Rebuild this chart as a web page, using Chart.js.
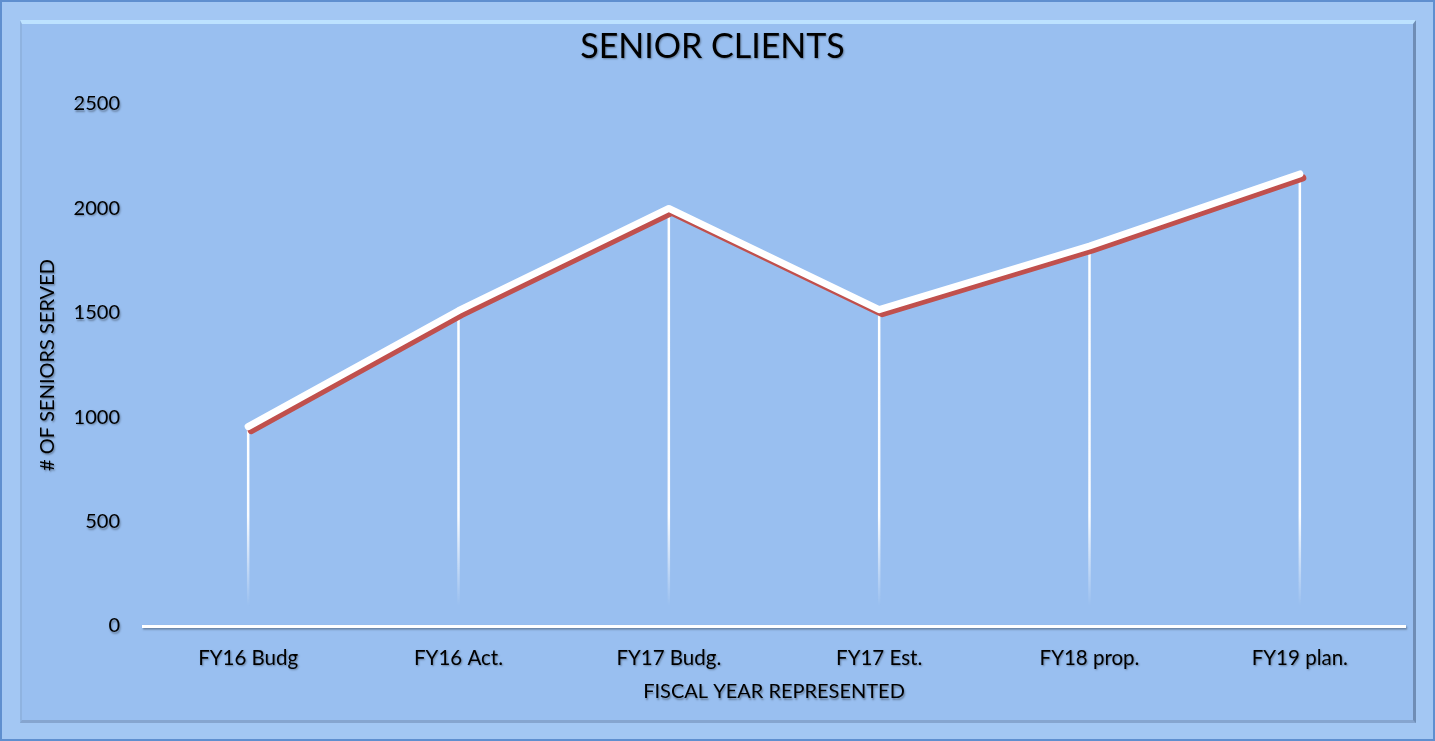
<!DOCTYPE html>
<html>
<head>
<meta charset="utf-8">
<script src="https://cdn.jsdelivr.net/npm/chart.js@4/dist/chart.umd.min.js"></script>
<style>
  html, body { margin: 0; padding: 0; background: #99bff0; }
  #wrap { position: relative; width: 1435px; height: 741px; overflow: hidden; }
  #outer { position: absolute; left: 0; top: 0; width: 1435px; height: 741px; box-sizing: border-box;
           border: 2px solid #5f8fcf; background: #a3c7f3; }
  #inner { position: absolute; left: 20px; top: 20px; width: 1396px; height: 703px; box-sizing: border-box;
           background: #99bff0; border-top: 4px solid #bde2ff; border-left: 2px solid #8fb3e0;
           border-right: 3px solid #6f8db5; border-bottom: 3px solid #86a5cf; }
  canvas { position: absolute; left: 0; top: 0; }
</style>
</head>
<body>
<div id="wrap">
  <div id="outer"></div>
  <div id="inner"></div>
  <canvas id="c" width="1435" height="741"></canvas>
</div>
<script>
const categories = ["FY16 Budg", "FY16 Act.", "FY17 Budg.", "FY17 Est.", "FY18 prop.", "FY19 plan."];
const seniorsServed = [955, 1510, 2000, 1515, 1820, 2165];
const yTicks = [0, 500, 1000, 1500, 2000, 2500];

const FONT = "Lato, 'Open Sans', sans-serif";

const textShadow = {
  id: 'textShadow',
  beforeDraw(chart) {
    const ctx = chart.ctx;
    ctx.shadowColor = 'rgba(0,0,0,0.35)';
    ctx.shadowOffsetX = 1;
    ctx.shadowOffsetY = 1.5;
    ctx.shadowBlur = 2;
  },
  beforeDatasetsDraw(chart) {
    const ctx = chart.ctx;
    ctx.shadowColor = 'rgba(0,0,0,0)';
    ctx.shadowOffsetX = 0;
    ctx.shadowOffsetY = 0;
    ctx.shadowBlur = 0;
    // drop lines
    const meta = chart.getDatasetMeta(0);
    const yBase = chart.scales.y.getPixelForValue(0) - 20;
    ctx.save();
    meta.data.forEach(pt => {
      const g = ctx.createLinearGradient(0, pt.y, 0, yBase);
      g.addColorStop(0, 'rgba(255,255,255,1)');
      g.addColorStop(Math.max(0, (yBase - 90 - pt.y) / (yBase - pt.y)), 'rgba(255,255,255,0.95)');
      g.addColorStop(1, 'rgba(255,255,255,0)');
      ctx.strokeStyle = g;
      ctx.lineWidth = 2.5;
      ctx.beginPath();
      ctx.moveTo(pt.x, pt.y);
      ctx.lineTo(pt.x, yBase);
      ctx.stroke();
    });
    ctx.restore();
  },
  beforeDatasetDraw(chart) {
    const ctx = chart.ctx;
    ctx.save();
    ctx.shadowColor = '#c0504d';
    ctx.shadowOffsetX = 3;
    ctx.shadowOffsetY = 4;
    ctx.shadowBlur = 0;
  },
  afterDatasetDraw(chart) {
    chart.ctx.restore();
  }
};

new Chart(document.getElementById('c'), {
  type: 'line',
  data: {
    labels: categories,
    datasets: [{
      label: '# of Seniors Served',
      data: seniorsServed,
      borderColor: '#ffffff',
      borderWidth: 7,
      borderCapStyle: 'round',
      borderJoinStyle: 'round',
      pointRadius: 0,
      pointHoverRadius: 0,
      tension: 0,
      fill: false
    }]
  },
  options: {
    responsive: false,
    animation: false,
    devicePixelRatio: 1,
    layout: { padding: { left: 20, right: 30, top: 0, bottom: 33 } },
    plugins: {
      legend: { display: false },
      tooltip: { enabled: false },
      title: {
        display: true,
        text: 'SENIOR CLIENTS',
        color: '#000000',
        font: { family: FONT, size: 34, weight: 'normal' },
        padding: { top: 26.6, bottom: 36.6 }
      }
    },
    scales: {
      x: {
        offset: true,
        afterFit(scale) { scale.height = 82; },
        grid: { display: false, drawTicks: false },
        border: { display: true, color: '#ffffff', width: 3 },
        ticks: { color: '#000000', padding: 20, font: { family: FONT, size: 20.5 } },
        title: {
          display: true,
          text: 'FISCAL YEAR REPRESENTED',
          color: '#000000',
          font: { family: FONT, size: 20 },
          padding: { top: 10, bottom: 4 }
        }
      },
      y: {
        min: 0,
        max: 2500,
        afterFit(scale) { scale.width = 123; },
        afterBuildTicks(scale) { scale.ticks = yTicks.map(v => ({ value: v })); },
        grid: { display: false, drawTicks: false },
        border: { display: false },
        ticks: {
          color: '#000000', padding: 23, font: { family: FONT, size: 20 },
          callback: (v) => String(v)
        },
        title: {
          display: true,
          text: '# OF SENIORS SERVED',
          color: '#000000',
          font: { family: FONT, size: 20 },
          padding: { top: 16, bottom: 4 }
        }
      }
    }
  },
  plugins: [textShadow]
});
</script>
</body>
</html>
